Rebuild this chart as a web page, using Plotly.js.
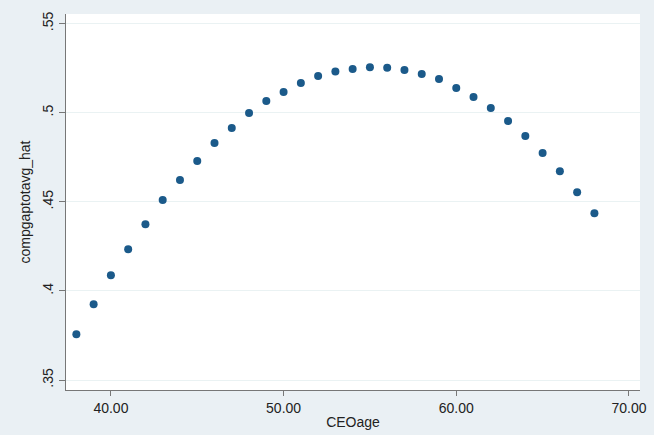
<!DOCTYPE html>
<html>
<head>
<meta charset="utf-8">
<script src="https://cdn.plot.ly/plotly-3.0.1.min.js"></script>
<style>html,body{margin:0;padding:0;background:#eaf0f4;}#chart{width:654px;height:435px;}</style>
</head>
<body>
<div id="chart"></div>
<script>
const ceoAge = [38,39,40,41,42,43,44,45,46,47,48,49,50,51,52,53,54,55,56,57,58,59,60,61,62,63,64,65,66,67,68];
const compGapHat = [0.3757,0.3925,0.4088,0.4234,0.4374,0.4510,0.4622,0.4729,0.4830,0.4914,0.4998,0.5066,0.5116,0.5167,0.5206,0.5232,0.5245,0.5255,0.5252,0.5240,0.5217,0.5189,0.5139,0.5088,0.5026,0.4953,0.4869,0.4774,0.4672,0.4554,0.4436];
const xTickVals = [40,50,60,70];
const yTickVals = [0.35,0.4,0.45,0.5,0.55];
const yTickText = ['.35','.4','.45','.5','.55'];

const font = {family: 'Liberation Sans, Arial, sans-serif', size: 14, color: '#222'};

Plotly.newPlot('chart', [{
  x: ceoAge, y: compGapHat, type: 'scatter', mode: 'markers',
  marker: {color: '#1b5a8a', size: 8}
}], {
  width: 654, height: 435,
  margin: {l: 66, r: 14, t: 14, b: 45},
  paper_bgcolor: '#eaf0f4', plot_bgcolor: '#ffffff',
  font: font,
  showlegend: false,
  xaxis: {
    range: [37.4, 70.64], tickvals: xTickVals, tickformat: '.2f',
    showgrid: false, zeroline: false,
    showline: true, linecolor: '#777', linewidth: 1,
    ticks: 'outside', ticklen: 5, tickcolor: '#777',
    tickfont: font,
    title: {text: 'CEOage', font: font, standoff: 2}
  },
  yaxis: {
    range: [0.3444, 0.5554], tickvals: yTickVals, ticktext: yTickText,
    tickangle: -90,
    showgrid: true, gridcolor: '#eaf2f3', gridwidth: 1, zeroline: false,
    showline: true, linecolor: '#777', linewidth: 1,
    ticks: 'outside', ticklen: 6, tickcolor: '#777',
    tickfont: font,
    title: {text: 'compgaptotavg_hat', font: font, standoff: 6}
  }
}, {displayModeBar: false, staticPlot: true});
</script>
</body>
</html>
